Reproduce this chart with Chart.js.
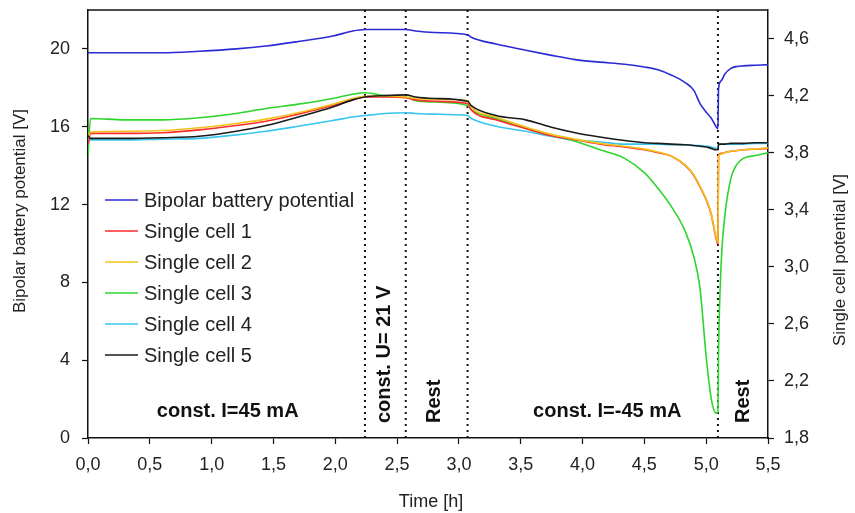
<!DOCTYPE html>
<html>
<head>
<meta charset="utf-8">
<script src="https://cdn.jsdelivr.net/npm/chart.js@4"></script>
<style>
  html, body { margin: 0; padding: 0; background: #fff; }
  #wrap { width: 855px; height: 513px; }
</style>
</head>
<body>
<div id="wrap"><canvas id="myChart"></canvas></div>
<script>
// time grid [h]
const times = [0, 0.02, 0.3, 0.6, 0.9, 1.2, 1.44, 1.7, 1.98, 2.14, 2.24, 2.4, 2.57, 2.65, 2.8, 3.07, 3.1, 3.3, 3.54, 3.74, 3.94, 4.14, 4.34, 4.5, 4.61, 4.72, 4.83, 4.9, 4.95, 5.0, 5.04, 5.08, 5.095, 5.1, 5.12, 5.15, 5.2, 5.25, 5.3, 5.4, 5.5];

// bipolar battery potential [V] (left axis)
const bipolar = [19.8, 19.8, 19.8, 19.8, 19.88, 20.0, 20.15, 20.38, 20.66, 20.92, 21.0, 21.0, 21.0, 20.92, 20.84, 20.73, 20.6, 20.25, 19.93, 19.68, 19.45, 19.32, 19.21, 19.07, 18.93, 18.65, 18.27, 17.87, 17.19, 16.75, 16.45, 16.0, 15.9, 17.96, 18.35, 18.7, 19.0, 19.1, 19.13, 19.16, 19.19];

// single cell potentials [V] (right axis)
const cell1 = [3.86, 3.935, 3.935, 3.94, 3.96, 3.99, 4.02, 4.07, 4.13, 4.17, 4.19, 4.19, 4.185, 4.17, 4.16, 4.145, 4.10, 4.03, 3.97, 3.92, 3.89, 3.86, 3.84, 3.82, 3.80, 3.775, 3.71, 3.64, 3.56, 3.47, 3.37, 3.2, 3.16, 3.78, 3.795, 3.80, 3.81, 3.815, 3.82, 3.825, 3.83];
const cell2 = [3.90, 3.945, 3.95, 3.955, 3.975, 4.005, 4.035, 4.08, 4.14, 4.18, 4.195, 4.195, 4.19, 4.18, 4.175, 4.165, 4.12, 4.05, 3.98, 3.93, 3.895, 3.865, 3.845, 3.825, 3.805, 3.775, 3.715, 3.645, 3.565, 3.475, 3.375, 3.21, 3.17, 3.775, 3.79, 3.80, 3.81, 3.815, 3.82, 3.825, 3.835];
const cell3 = [3.78, 4.04, 4.03, 4.03, 4.045, 4.075, 4.11, 4.14, 4.18, 4.21, 4.22, 4.20, 4.19, 4.165, 4.155, 4.13, 4.10, 4.04, 3.97, 3.92, 3.88, 3.82, 3.76, 3.66, 3.55, 3.42, 3.25, 3.07, 2.85, 2.37, 2.08, 1.975, 1.98, 2.4, 3.0, 3.35, 3.62, 3.72, 3.76, 3.78, 3.80];
const cell4 = [3.90, 3.89, 3.89, 3.895, 3.90, 3.925, 3.95, 3.985, 4.025, 4.05, 4.06, 4.075, 4.08, 4.075, 4.07, 4.06, 4.04, 3.985, 3.95, 3.915, 3.89, 3.875, 3.86, 3.86, 3.86, 3.855, 3.855, 3.85, 3.85, 3.845, 3.84, 3.83, 3.83, 3.855, 3.86, 3.86, 3.86, 3.86, 3.86, 3.865, 3.865];
const cell5 = [3.92, 3.90, 3.90, 3.905, 3.915, 3.95, 3.99, 4.05, 4.12, 4.17, 4.19, 4.20, 4.205, 4.19, 4.18, 4.16, 4.13, 4.06, 4.03, 3.98, 3.94, 3.91, 3.885, 3.87, 3.865, 3.86, 3.855, 3.85, 3.845, 3.84, 3.83, 3.82, 3.82, 3.86, 3.86, 3.86, 3.865, 3.865, 3.865, 3.87, 3.87];

// phase boundaries [h] (dotted lines)
const phaseBounds = [2.24, 2.57, 3.07, 5.095];

const seriesNames = ["Bipolar battery potential", "Single cell 1", "Single cell 2", "Single cell 3", "Single cell 4", "Single cell 5"];
const seriesColors = ["#2a2ad4", "#ff2a2a", "#f2c21c", "#2ed52e", "#38c6ef", "#1a1a1a"];

const xTicks = [0, 0.5, 1, 1.5, 2, 2.5, 3, 3.5, 4, 4.5, 5, 5.5];
const leftTicks = [0, 4, 8, 12, 16, 20];
const rightTicks = [1.8, 2.2, 2.6, 3.0, 3.4, 3.8, 4.2, 4.6];

const FONT = "'Liberation Sans', Arial, sans-serif";
const comma = (v, d) => v.toFixed(d).replace(".", ",");

const toPts = (vals) => times.map((t, i) => ({ x: t, y: vals[i] }));

const datasets = [];
// black on top, then others
datasets.push({ label: seriesNames[5], data: toPts(cell5), yAxisID: "y2", borderColor: seriesColors[5] });
datasets.push({ label: seriesNames[2], data: toPts(cell2), yAxisID: "y2", borderColor: seriesColors[2] });
datasets.push({ label: seriesNames[1], data: toPts(cell1), yAxisID: "y2", borderColor: seriesColors[1] });
datasets.push({ label: seriesNames[4], data: toPts(cell4), yAxisID: "y2", borderColor: seriesColors[4] });
datasets.push({ label: seriesNames[3], data: toPts(cell3), yAxisID: "y2", borderColor: seriesColors[3] });
datasets.push({ label: seriesNames[0], data: toPts(bipolar), yAxisID: "y", borderColor: seriesColors[0] });
datasets.forEach(d => {
  d.borderWidth = 1.6;
  d.pointRadius = 0;
  d.cubicInterpolationMode = "monotone";
  d.fill = false;
});
phaseBounds.forEach(b => {
  datasets.push({
    label: "_phase",
    data: [{ x: b, y: 0 }, { x: b, y: 22 }],
    yAxisID: "y",
    borderColor: "#111",
    borderWidth: 2,
    borderDash: [2, 4],
    pointRadius: 0
  });
});

// phase labels: [text, x in h, rotated]
const phaseLabels = [
  ["const. I=45 mA", 1.13, false],
  ["const. U= 21 V", 2.40, true],
  ["Rest", 2.80, true],
  ["const. I=-45 mA", 4.20, false],
  ["Rest", 5.305, true]
];

const extras = {
  id: "extras",
  afterDraw(chart) {
    const { ctx, chartArea, scales } = chart;
    ctx.save();
    // top frame line
    ctx.strokeStyle = "#111";
    ctx.lineWidth = 1.5;
    ctx.beginPath();
    ctx.moveTo(chartArea.left, chartArea.top);
    ctx.lineTo(chartArea.right, chartArea.top);
    ctx.stroke();

    // axis titles
    ctx.fillStyle = "#222";
    ctx.textAlign = "center";
    ctx.textBaseline = "middle";
    ctx.font = "18px " + FONT;
    ctx.fillText("Time [h]", 431, 502);
    ctx.font = "17px " + FONT;
    ctx.save();
    ctx.translate(20, 211);
    ctx.rotate(-Math.PI / 2);
    ctx.fillText("Bipolar battery potential [V]", 0, 0);
    ctx.restore();
    ctx.save();
    ctx.translate(840, 260);
    ctx.rotate(-Math.PI / 2);
    ctx.fillText("Single cell potential [V]", 0, 0);
    ctx.restore();

    // legend
    ctx.font = "20px " + FONT;
    ctx.textBaseline = "middle";
    ctx.textAlign = "left";
    seriesNames.forEach((name, i) => {
      const y = 200 + i * 31;
      ctx.strokeStyle = seriesColors[i];
      ctx.lineWidth = 1.6;
      ctx.beginPath();
      ctx.moveTo(105, y);
      ctx.lineTo(138, y);
      ctx.stroke();
      ctx.fillStyle = "#222";
      ctx.fillText(name, 144, y + 1);
    });

    // phase annotations
    ctx.font = "bold 20px " + FONT;
    ctx.fillStyle = "#111";
    phaseLabels.forEach(([txt, t, rot]) => {
      const x = scales.x.getPixelForValue(t);
      if (rot) {
        ctx.save();
        ctx.translate(x, 423);
        ctx.rotate(-Math.PI / 2);
        ctx.textAlign = "left";
        ctx.textBaseline = "middle";
        ctx.fillText(txt, 0, 0);
        ctx.restore();
      } else {
        ctx.textAlign = "center";
        ctx.textBaseline = "middle";
        ctx.fillText(txt, x, 411);
      }
    });
    ctx.restore();
  }
};

const noPad = s => { s.paddingTop = 0; s.paddingBottom = 0; s.paddingLeft = 0; s.paddingRight = 0; };

const ctx = document.getElementById("myChart").getContext("2d");
const chart = new Chart(ctx, {
  type: "line",
  data: { datasets },
  options: {
    responsive: true,
    maintainAspectRatio: false,
    animation: false,
    layout: { padding: { top: 10, left: 0, right: 0, bottom: 0 } },
    plugins: { legend: { display: false }, tooltip: { enabled: false } },
    scales: {
      x: {
        type: "linear",
        min: 0,
        max: 5.5,
        afterFit: s => { s.height = 75; noPad(s); },
        afterBuildTicks: s => { s.ticks = xTicks.map(v => ({ value: v })); },
        grid: { drawOnChartArea: false, tickLength: 6, color: "#111", tickWidth: 1.2 },
        border: { color: "#111", width: 1.5 },
        ticks: { color: "#222", font: { family: FONT, size: 18 }, padding: 10, maxRotation: 0, callback: v => comma(v, 1) }
      },
      y: {
        position: "left",
        min: 0,
        max: 22,
        afterFit: s => { s.width = 88; noPad(s); },
        afterBuildTicks: s => { s.ticks = leftTicks.map(v => ({ value: v })); },
        grid: { drawOnChartArea: false, tickLength: 6, color: "#111", tickWidth: 1.2 },
        border: { color: "#111", width: 1.5 },
        ticks: { color: "#222", font: { family: FONT, size: 18 }, padding: 12, callback: v => String(v) }
      },
      y2: {
        position: "right",
        min: 1.8,
        max: 4.8,
        afterFit: s => { s.width = 87; noPad(s); },
        afterBuildTicks: s => { s.ticks = rightTicks.map(v => ({ value: v })); },
        grid: { drawOnChartArea: false, tickLength: 6, color: "#111", tickWidth: 1.2 },
        border: { color: "#111", width: 1.5 },
        ticks: { color: "#222", font: { family: FONT, size: 18 }, padding: 10, callback: v => comma(v, 1) }
      }
    }
  },
  plugins: [extras]
});
</script>
</body>
</html>
